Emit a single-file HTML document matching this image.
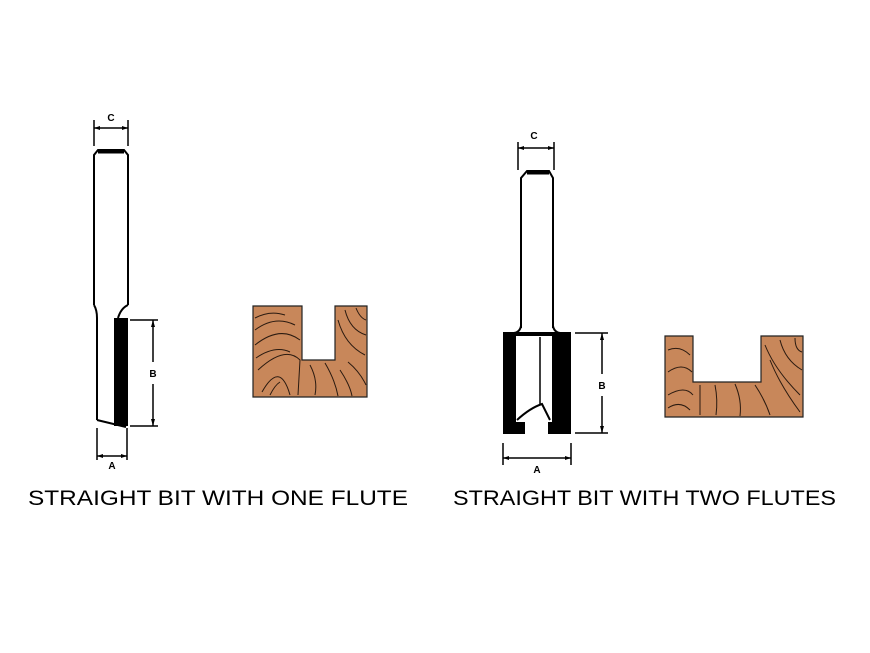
<!DOCTYPE html>
<html><head><style>
html,body{margin:0;padding:0;background:#fff;}
svg{display:block;}
text{font-family:"Liberation Sans",sans-serif;}
</style></head><body>
<svg width="870" height="653" viewBox="0 0 870 653" xmlns="http://www.w3.org/2000/svg">
<rect width="870" height="653" fill="#fff"/>
<g stroke="#000" fill="none" stroke-width="2">
<line x1="94" y1="120" x2="94" y2="146" stroke-width="1.5"/>
<line x1="128" y1="120" x2="128" y2="146" stroke-width="1.5"/>
<line x1="94" y1="128" x2="128" y2="128" stroke-width="1.5"/>
<path d="M94,305 L94,155 L98,150 L124,150 L128,155 L128,305"/>
<line x1="98" y1="152" x2="124" y2="152" stroke-width="3"/>
<path d="M94,305 Q97,310 97,318 L97,420"/>
<path d="M128,305 Q121,308 118,318"/>
<rect x="114" y="318" width="14" height="108" fill="#000" stroke="none"/>
<path d="M97,420 L126,427"/>
<line x1="130" y1="320" x2="158" y2="320" stroke-width="1.5"/>
<line x1="130" y1="426" x2="158" y2="426" stroke-width="1.5"/>
<line x1="153" y1="320" x2="153" y2="362" stroke-width="1.5"/>
<line x1="153" y1="384" x2="153" y2="426" stroke-width="1.5"/>
<line x1="97" y1="428" x2="97" y2="460" stroke-width="1.5"/>
<line x1="127" y1="428" x2="127" y2="460" stroke-width="1.5"/>
<line x1="97" y1="456" x2="127" y2="456" stroke-width="1.5"/>

<line x1="518" y1="142" x2="518" y2="170" stroke-width="1.5"/>
<line x1="554" y1="142" x2="554" y2="170" stroke-width="1.5"/>
<line x1="518" y1="148" x2="554" y2="148" stroke-width="1.5"/>
<path d="M521,328 L521,178 L527,171 L549,171 L553,178 L553,328"/>
<line x1="527" y1="173" x2="549" y2="173" stroke-width="3"/>
<path d="M521,326 Q520,332 514,333"/>
<path d="M553,326 Q554,332 560,333"/>
<rect x="503" y="332" width="13" height="102" fill="#000" stroke="none"/>
<rect x="552" y="332" width="19" height="102" fill="#000" stroke="none"/>
<rect x="503" y="332" width="68" height="4" fill="#000" stroke="none"/>
<rect x="503" y="422" width="22" height="12" fill="#000" stroke="none"/>
<rect x="548" y="422" width="10" height="12" fill="#000" stroke="none"/>
<line x1="540" y1="337" x2="540" y2="405" stroke-width="1.5"/>
<path d="M517,420 Q530,408 542,404 L550,420"/>
<line x1="575" y1="333" x2="608" y2="333" stroke-width="1.5"/>
<line x1="575" y1="433" x2="608" y2="433" stroke-width="1.5"/>
<line x1="602" y1="333" x2="602" y2="374" stroke-width="1.5"/>
<line x1="602" y1="396" x2="602" y2="433" stroke-width="1.5"/>
<line x1="503" y1="443" x2="503" y2="465" stroke-width="1.5"/>
<line x1="571" y1="443" x2="571" y2="465" stroke-width="1.5"/>
<line x1="503" y1="458" x2="571" y2="458" stroke-width="1.5"/>
</g>
<g fill="#000">
<path d="M94,128 l6,-2 v4z M128,128 l-6,-2 v4z"/>
<path d="M153,320 l-2,7 h4z M153,426 l-2,-7 h4z"/>
<path d="M97,456 l6,-2 v4z M127,456 l-6,-2 v4z"/>
<path d="M518,148 l6,-2 v4z M554,148 l-6,-2 v4z"/>
<path d="M602,333 l-2,7 h4z M602,433 l-2,-7 h4z"/>
<path d="M503,458 l6,-2 v4z M571,458 l-6,-2 v4z"/>
</g>
<g font-size="10" font-weight="bold" text-anchor="middle">
<text x="111" y="121">C</text>
<text x="153" y="377">B</text>
<text x="112" y="469">A</text>
<text x="534" y="139">C</text>
<text x="602" y="389">B</text>
<text x="537" y="473">A</text>
</g>
<g stroke="#222" stroke-width="1.2">
<path d="M253,306 H302 V360 H335 V306 H367 V397 H253 Z" fill="#c8875a"/>
<path d="M665,336 H693 V382 H761 V336 H803 V417 H665 Z" fill="#c8875a"/>
</g>
<g stroke="#2a1a10" stroke-width="1" fill="none">
<path d="M255,318 Q270,310 285,315"/>
<path d="M255,330 Q275,315 295,325"/><path d="M255,345 Q280,325 300,340"/>
<path d="M256,358 Q275,345 290,352"/>
<path d="M258,370 Q285,345 300,360 L298,395"/><path d="M262,392 Q280,360 290,395"/>
<path d="M270,395 Q275,385 280,382"/>
<path d="M310,365 Q318,380 315,395"/><path d="M325,363 Q335,380 338,396"/>
<path d="M338,320 Q345,345 365,355"/><path d="M345,310 Q350,330 366,335"/>
<path d="M356,308 Q360,318 366,320"/>
<path d="M340,370 Q350,385 352,396"/><path d="M348,362 Q360,372 366,385"/>
<path d="M668,350 Q680,345 690,355"/><path d="M668,372 Q682,362 692,372"/>
<path d="M668,395 Q685,385 693,395"/><path d="M668,408 Q680,400 690,410"/>
<path d="M700,385 L700,415"/>
<path d="M715,385 Q718,400 716,415"/><path d="M735,384 Q742,400 740,416"/>
<path d="M755,385 Q765,400 770,415"/><path d="M765,345 Q775,370 800,395"/>
<path d="M780,340 Q785,360 802,370"/><path d="M795,338 Q795,350 802,352"/>
<path d="M770,360 Q780,385 800,412"/>
</g>
<text x="28" y="505" font-size="21" textLength="380" lengthAdjust="spacingAndGlyphs">STRAIGHT BIT WITH ONE FLUTE</text>
<text x="453" y="505" font-size="21" textLength="383" lengthAdjust="spacingAndGlyphs">STRAIGHT BIT WITH TWO FLUTES</text>
</svg>
</body></html>
